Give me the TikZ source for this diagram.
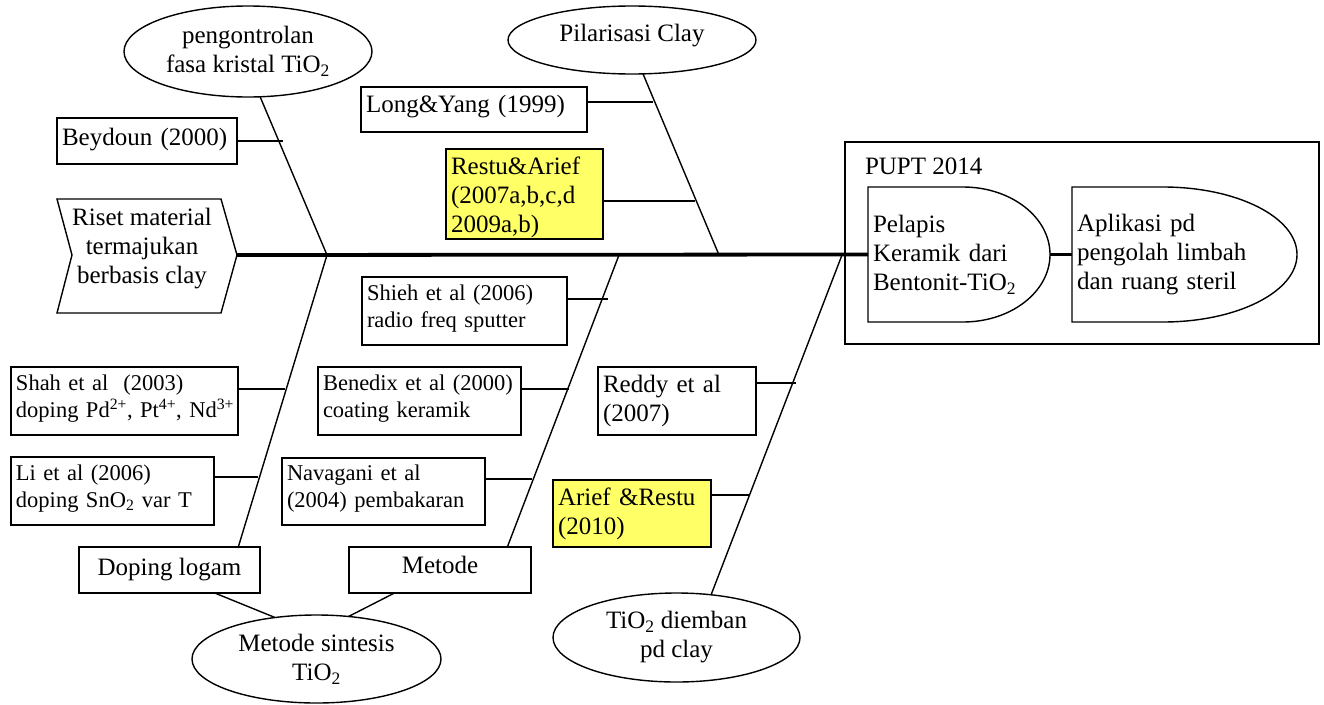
\documentclass[tikz,border=0pt]{standalone}
\usepackage{fontspec}
\setmainfont{Liberation Serif}
\usetikzlibrary{shapes.geometric,calc}
\newcommand{\dn}[1]{\rule[-#1]{0pt}{#1}}
\newcommand{\upst}[1]{\rule{0pt}{#1}}
\definecolor{hl}{RGB}{255,255,102}
\begin{document}
\begin{tikzpicture}[x=1pt,y=-1pt,
  every node/.style={inner sep=0pt, outer sep=0pt},
  bigf/.style={font=\fontsize{25}{29}\selectfont},
  smallf/.style={font=\fontsize{22.5}{27}\selectfont},
  ln/.style={line width=1.4pt},
  spine/.style={line width=3.8pt},
  box/.style={draw, line width=1.4pt, rectangle},
  lbox/.style 2 args={box, minimum width=#1, minimum height=#2, text width=#1-10pt, inner xsep=5pt, align=left},
  ell/.style={draw, ellipse, line width=1.4pt, align=center, bigf}
]
\useasboundingbox (0,0) rectangle (1324,704);

% head: chevron
\node[bigf, align=center] (riset) at (142,248.3) {Riset material\\termajukan\\berbasis clay};
\coordinate (rnw) at (57,199);
\coordinate (rne) at (221,199);
\coordinate (rtip) at (237,255);
\coordinate (rse) at (221,313);
\coordinate (rsw) at (57,313);
\coordinate (rnotch) at (72,255);
\draw[ln] (rnw) -- (rne) -- (rtip) -- (rse) -- (rsw) -- (rnotch) -- cycle;

% right box
\node[box, minimum width=474pt, minimum height=202pt] (pupt) at (1082,243) {};
\node[bigf, anchor=base west] (puptl) at (865,174) {PUPT 2014};
\node[bigf, minimum width=182pt, minimum height=135pt, text width=172pt, inner xsep=5pt, align=left] (pel) at (959,254.5) {Pelapis\\Keramik dari\\Bentonit-TiO\textsubscript{2}};
\draw[ln] (pel.north west) -- ($(pel.north west)+(95,0)$) arc[start angle=90,end angle=-90,x radius=87pt,y radius=67.5pt] -- (pel.south west) -- cycle;
\node[bigf, minimum width=225pt, minimum height=135pt, text width=215pt, inner xsep=5pt, align=left] (apl) at (1184.5,254.5) {Aplikasi pd\\pengolah limbah\\dan ruang steril};
\draw[ln] (apl.north west) -- ($(apl.north west)+(91,0)$) arc[start angle=90,end angle=-90,x radius=134pt,y radius=67.5pt] -- (apl.south west) -- cycle;

% spine
\draw[spine] (rtip) -- (pel.west);
\draw[spine] (pel.east) -- (apl.west);
\coordinate (j1) at (327,255);
\coordinate (j2) at (719,255);
\coordinate (j3) at (619,255);
\coordinate (j4) at (842,255);

% ellipses
\node[ell, minimum width=248pt, minimum height=91pt] (peng) at (248,51.5) {pengontrolan\\fasa kristal TiO\textsubscript{2}};
\node[ell, minimum width=248pt, minimum height=68pt] (pil) at (632,40) {Pilarisasi Clay\dn{15pt}};
\node[ell, minimum width=249pt, minimum height=88pt] (mst) at (316.5,659) {Metode sintesis\\TiO\textsubscript{2}};
\node[ell, minimum width=247pt, minimum height=89pt] (tid) at (676.5,637.5) {TiO\textsubscript{2} diemban\\pd clay};

% category boxes
\node[box, bigf, minimum width=181pt, minimum height=46pt] (dop) at (169.5,570) {Doping logam};
\node[box, bigf, minimum width=182pt, minimum height=46pt] (met) at (440,570) {Metode\dn{10.5pt}};

% cause boxes
\node[lbox={180pt}{46pt}, bigf] (bey) at (147,141) {Beydoun (2000)\dn{9pt}};
\node[lbox={226pt}{45pt}, bigf] (long) at (474,109.5) {Long\&Yang (1999)\dn{11.4pt}};
\node[lbox={157pt}{90pt}, bigf, fill=hl] (restu) at (524.5,194) {\upst{24pt}Restu\&Arief\\(2007a,b,c,d\\2009a,b)};
\node[lbox={205pt}{68pt}, smallf] (shieh) at (464.5,311) {Shieh et al (2006)\\radio freq sputter\dn{10pt}};
\node[lbox={203pt}{68pt}, smallf] (ben) at (419.5,401) {Benedix et al (2000)\\coating keramik\dn{10pt}};
\node[lbox={203pt}{67pt}, smallf] (nav) at (383.5,491.5) {Navagani et al\\(2004) pembakaran\dn{10pt}};
\node[lbox={227pt}{68pt}, smallf] (shah) at (124.5,401) {Shah et al~ (2003)\\\mbox{doping Pd\textsuperscript{2+}, Pt\textsuperscript{4+}, Nd\textsuperscript{3+}}\dn{10pt}};
\node[lbox={203pt}{68pt}, smallf] (li) at (112.5,491) {Li et al (2006)\\doping SnO\textsubscript{2} var T\dn{10pt}};
\node[lbox={158pt}{68pt}, bigf] (reddy) at (677,401) {Reddy et al\\(2007)};
\node[lbox={158pt}{67pt}, bigf, fill=hl] (arief) at (632,513.5) {Arief \&Restu\\(2010)};

% bones
\draw[ln] (peng.-75) -- (j1) -- ($(dop.north west)!0.88!(dop.north east)$);
\draw[ln] (pil.-72) -- (j2);
\draw[ln] (j3) -- ($(met.north west)!0.87!(met.north east)$);
\draw[ln] (j4) -- (tid.51);
\draw[ln] ($(dop.south west)!0.75!(dop.south east)$) -- (mst.135);
\draw[ln] ($(met.south west)!0.25!(met.south east)$) -- (mst.53);

% branches
\coordinate (bb1) at (283,141);
\coordinate (bb2) at (653,102);
\coordinate (bb3) at (695,201);
\coordinate (bb4) at (608,299);
\coordinate (bb5) at (569,389);
\coordinate (bb6) at (532,479);
\coordinate (bb7) at (285,389);
\coordinate (bb8) at (258,477);
\coordinate (bb9) at (796,383);
\coordinate (bb10) at (750,495);
\draw[ln] (bey.east |- bb1) -- (bb1);
\draw[ln] (long.east |- bb2) -- (bb2);
\draw[ln] (restu.east |- bb3) -- (bb3);
\draw[ln] (shieh.east |- bb4) -- (bb4);
\draw[ln] (ben.east |- bb5) -- (bb5);
\draw[ln] (nav.east |- bb6) -- (bb6);
\draw[ln] (shah.east |- bb7) -- (bb7);
\draw[ln] (li.east |- bb8) -- (bb8);
\draw[ln] (reddy.east |- bb9) -- (bb9);
\draw[ln] (arief.east |- bb10) -- (bb10);
\end{tikzpicture}
\end{document}
